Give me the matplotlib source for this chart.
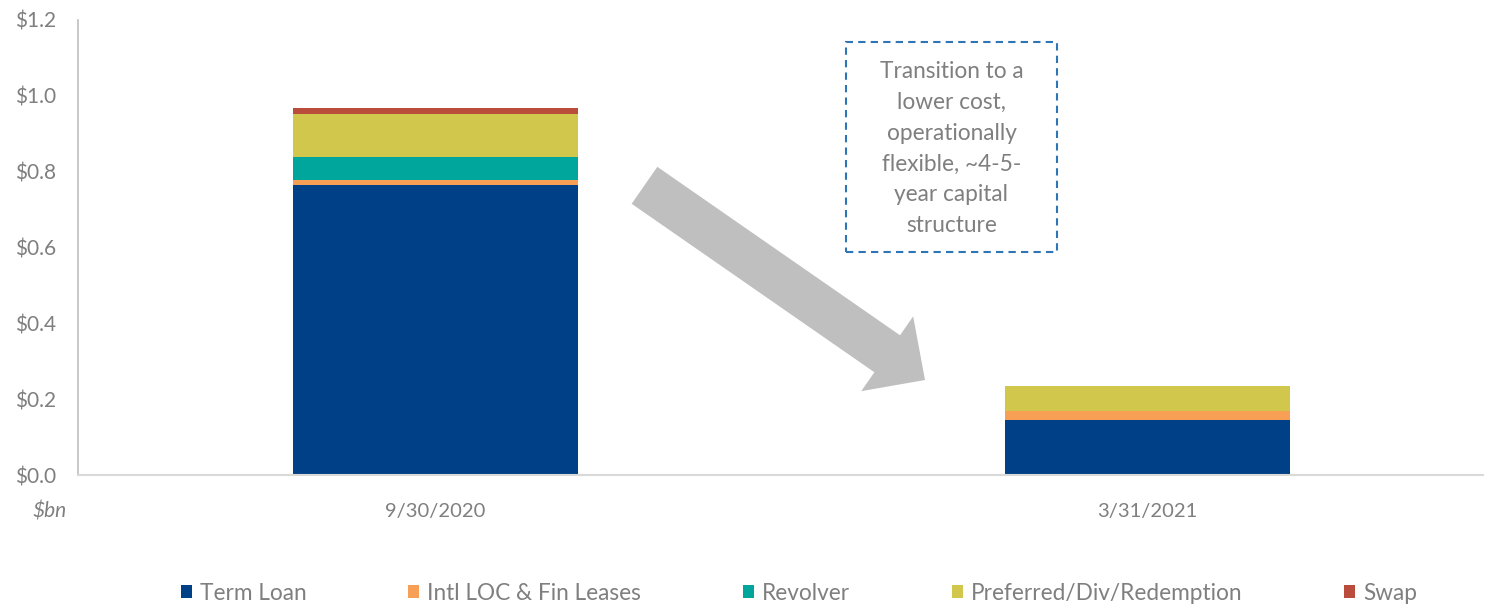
import matplotlib
matplotlib.use("Agg")
import matplotlib.pyplot as plt
import matplotlib.patches as mpatches
from matplotlib.transforms import IdentityTransform
import numpy as np

categories = ["9/30/2020", "3/31/2021"]
series_names = ["Term Loan", "Intl LOC & Fin Leases", "Revolver", "Preferred/Div/Redemption", "Swap"]
term_loan = [0.765, 0.145]
intl_loc = [0.013, 0.023]
revolver = [0.061, 0.0]
preferred = [0.113, 0.067]
swap = [0.016, 0.0]
yticks = [0.0, 0.2, 0.4, 0.6, 0.8, 1.0, 1.2]
colors = ["#004087", "#F79F55", "#00A69C", "#D0C74C", "#B94C3A"]
note_text = "Transition to a\nlower cost,\noperationally\nflexible, ~4-5-\nyear capital\nstructure"

W, H = 1486, 606
plt.rcParams['font.family'] = ['Lato', 'DejaVu Sans']
gray = "#7F7F7F"

fig = plt.figure(figsize=(W / 100, H / 100), dpi=100)
ax = fig.add_axes([78 / W, 1 - 475 / H, (1483 - 78) / W, (475 - 20) / H])

x = np.arange(len(categories))
bottom = np.zeros(len(categories))
for name, vals, c in zip(series_names, [term_loan, intl_loc, revolver, preferred, swap], colors):
    ax.bar(x, vals, width=0.40, bottom=bottom, color=c, label=name, linewidth=0)
    bottom += np.array(vals)

ax.set_ylim(0, 1.2)
ax.set_xlim(-0.502, 1.471)
ax.set_yticks(yticks)
ax.set_yticklabels([f"${v:.1f}" for v in yticks], fontsize=15, color=gray)
ax.set_xticks(x)
ax.set_xticklabels(categories, fontsize=14.5, color=gray)
ax.tick_params(axis='both', length=0)
ax.tick_params(axis='y', pad=16)
ax.tick_params(axis='x', pad=20)
for s in ["top", "right"]:
    ax.spines[s].set_visible(False)
ax.spines["left"].set_color("#BFBFBF")
ax.spines["bottom"].set_color("#D9D9D9")
ax.spines["left"].set_linewidth(1.2)
ax.spines["bottom"].set_linewidth(1.5)

fig.text(50 / W, 1 - 512 / H, "$bn", fontsize=15, color=gray, style='italic',
         ha='center', va='center')

# big gray arrow (display pixel coords)
arrow = mpatches.FancyArrow(644.5, H - 185.3, 280.5, -194.7, width=45, head_width=91,
                            head_length=46, length_includes_head=True,
                            color="#BFBFBF", linewidth=0, transform=IdentityTransform())
fig.add_artist(arrow)

# dashed note box
box = mpatches.Rectangle((846 / W, 1 - 252 / H), (1057 - 846) / W, (252 - 42) / H,
                         transform=fig.transFigure, fill=False, edgecolor="#2E75B6",
                         linestyle=(0, (3.5, 2.5)), linewidth=1.5)
fig.add_artist(box)
fig.text(951.5 / W, 1 - 148.5 / H, note_text, fontsize=16.3, color=gray,
         ha='center', va='center', multialignment='center', linespacing=1.58)

handles, labels = ax.get_legend_handles_labels()
fig.legend(handles, labels, loc='center', bbox_to_anchor=(799 / W, 1 - 593 / H), ncol=5,
           frameon=False, fontsize=16.3, labelcolor=gray, handlelength=0.49,
           handleheight=0.49, handletextpad=0.35, columnspacing=4.5)

fig.savefig("out.png", dpi=100)
